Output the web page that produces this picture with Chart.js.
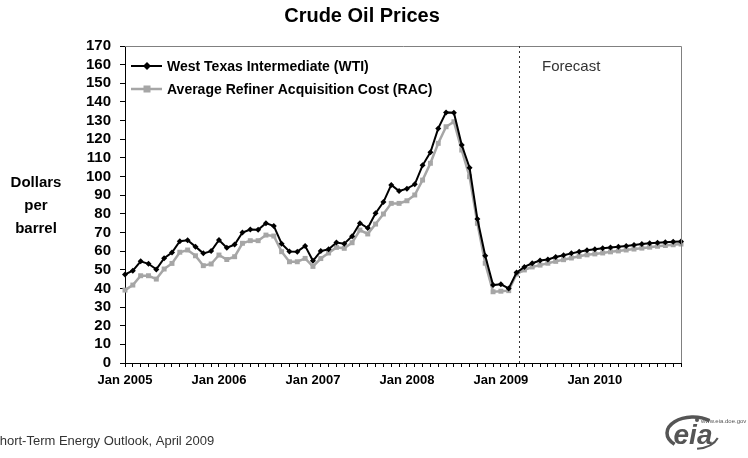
<!DOCTYPE html>
<html>
<head>
<meta charset="utf-8">
<script src="https://cdn.jsdelivr.net/npm/chart.js@4/dist/chart.umd.min.js"></script>
<style>
  html, body { margin: 0; padding: 0; background: #fff; }
  #wrap { width: 748px; height: 458px; position: relative; }
</style>
</head>
<body>
<div id="wrap"><canvas id="oilChart"></canvas></div>
<script>
// months Jan 2005 .. Dec 2010
const years = [2005, 2006, 2007, 2008, 2009, 2010];
const monthNames = ['Jan','Feb','Mar','Apr','May','Jun','Jul','Aug','Sep','Oct','Nov','Dec'];
const months = [];
years.forEach(y => monthNames.forEach(m => months.push(m + ' ' + y)));

// West Texas Intermediate, $/barrel
const wti = [
  47.5, 49.5, 54.5, 53.2, 50.2, 56.2, 59.2, 65.3, 65.8, 62.4, 58.8, 60.0,
  66.0, 61.8, 63.5, 70.0, 71.6, 71.5, 75.0, 73.5, 64.0, 59.8, 59.7, 62.8,
  54.8, 60.0, 61.0, 64.6, 64.0, 68.0, 75.0, 72.4, 80.3, 86.3, 95.5, 92.2,
  93.5, 95.8, 106.0, 113.0, 125.8, 134.4, 134.2, 116.9, 104.7, 77.2, 57.5, 41.8,
  42.2, 40.0, 48.5, 51.5, 53.5, 55.0, 55.5, 56.8, 57.8, 58.8, 59.7, 60.5,
  61.0, 61.5, 62.0, 62.3, 62.8, 63.3, 63.8, 64.2, 64.5, 64.8, 65.0, 65.2
];

// Average Refiner Acquisition Cost, $/barrel
const rac = [
  39.1, 41.8, 46.8, 46.8, 45.0, 50.4, 53.4, 59.4, 60.6, 57.5, 52.2, 53.1,
  57.9, 55.5, 57.0, 64.2, 65.6, 65.6, 68.6, 68.1, 59.7, 54.3, 54.3, 56.1,
  51.8, 56.0, 59.0, 62.0, 61.5, 64.5, 71.3, 69.2, 74.5, 79.9, 85.6, 85.6,
  87.0, 90.1, 98.1, 107.1, 117.8, 126.7, 129.4, 114.2, 99.9, 74.9, 53.5, 38.2,
  38.5, 38.8, 47.7, 49.9, 51.5, 52.5, 53.5, 54.5, 55.4, 56.3, 57.2, 58.0,
  58.5, 59.0, 59.6, 60.1, 60.6, 61.1, 61.6, 62.1, 62.6, 63.0, 63.4, 63.8
];

const forecastStart = 'Mar 2009';
const seriesNames = ['West Texas Intermediate (WTI)', 'Average Refiner Acquisition Cost (RAC)'];

const FONT = "'Liberation Sans', Arial, sans-serif";
const GREY = '#a6a6a6';

// titles, legend, forecast divider, footer — drawn straight onto the canvas
const decorations = {
  id: 'decorations',
  afterDraw(chart) {
    const ctx = chart.ctx;
    const a = chart.chartArea;
    const xs = chart.scales.x;
    ctx.save();

    // plot frame
    ctx.strokeStyle = '#808080';
    ctx.lineWidth = 1;
    ctx.beginPath();
    ctx.moveTo(a.left, a.top + 0.5);
    ctx.lineTo(a.right + 0.5, a.top + 0.5);
    ctx.lineTo(a.right + 0.5, a.bottom);
    ctx.stroke();

    // forecast divider
    const fx = Math.round(xs.getPixelForValue(months.indexOf(forecastStart))) + 2.5;
    ctx.strokeStyle = '#333';
    ctx.setLineDash([2, 3]);
    ctx.beginPath();
    ctx.moveTo(fx, a.top);
    ctx.lineTo(fx, a.bottom);
    ctx.stroke();
    ctx.setLineDash([]);

    ctx.fillStyle = '#333';
    ctx.font = '15px ' + FONT;
    ctx.textAlign = 'left';
    ctx.textBaseline = 'middle';
    ctx.fillText('Forecast', 542, 67);

    // title
    ctx.fillStyle = '#000';
    ctx.font = 'bold 20px ' + FONT;
    ctx.textAlign = 'center';
    ctx.fillText('Crude Oil Prices', 362, 16);

    // y axis title
    ctx.font = 'bold 15px ' + FONT;
    ctx.fillText('Dollars', 36, 183);
    ctx.fillText('per', 36, 206);
    ctx.fillText('barrel', 36, 229);

    // legend
    ctx.textAlign = 'left';
    ctx.font = 'bold 14px ' + FONT;
    ctx.lineWidth = 2;
    ctx.strokeStyle = '#000';
    ctx.beginPath(); ctx.moveTo(131, 66); ctx.lineTo(162, 66); ctx.stroke();
    ctx.fillStyle = '#000';
    ctx.beginPath();
    ctx.moveTo(147, 62); ctx.lineTo(151, 66); ctx.lineTo(147, 70); ctx.lineTo(143, 66);
    ctx.closePath(); ctx.fill();
    ctx.fillText(seriesNames[0], 167, 67);

    ctx.strokeStyle = GREY;
    ctx.lineWidth = 2.5;
    ctx.beginPath(); ctx.moveTo(131, 89); ctx.lineTo(162, 89); ctx.stroke();
    ctx.fillStyle = GREY;
    ctx.fillRect(143.5, 85.5, 7, 7);
    ctx.fillStyle = '#000';
    ctx.fillText(seriesNames[1], 167, 90);

    // footer
    ctx.fillStyle = '#333';
    ctx.font = '13px ' + FONT;
    ctx.fillText('Short-Term Energy Outlook, April 2009', -9, 441);

    // eia mark
    ctx.strokeStyle = '#555';
    ctx.lineWidth = 3.5;
    ctx.beginPath();
    ctx.ellipse(693, 433, 26, 16, 0, Math.PI * 0.75, Math.PI * 1.72);
    ctx.stroke();
    ctx.lineWidth = 2;
    ctx.beginPath();
    ctx.ellipse(693, 433, 26, 16, 0, Math.PI * 0.1, Math.PI * 0.45);
    ctx.stroke();
    ctx.fillStyle = '#555';
    ctx.beginPath(); ctx.arc(697, 420, 2, 0, Math.PI * 2); ctx.fill();
    ctx.font = 'bold italic 28px ' + FONT;
    ctx.textAlign = 'center';
    ctx.fillText('eia', 693, 436);
    ctx.font = '6px ' + FONT;
    ctx.textAlign = 'left';
    ctx.fillText('www.eia.doe.gov', 701, 421);

    ctx.restore();
  }
};

new Chart(document.getElementById('oilChart'), {
  type: 'line',
  data: {
    labels: months,
    datasets: [
      {
        label: seriesNames[0],
        data: wti,
        borderColor: '#000',
        backgroundColor: '#000',
        borderWidth: 2,
        pointStyle: 'rectRot',
        pointRadius: 3,
        pointBorderWidth: 0,
        tension: 0
      },
      {
        label: seriesNames[1],
        data: rac,
        borderColor: GREY,
        backgroundColor: GREY,
        borderWidth: 2.5,
        pointStyle: 'rect',
        pointRadius: 3.5,
        pointBorderWidth: 0,
        tension: 0
      }
    ]
  },
  options: {
    responsive: true,
    maintainAspectRatio: false,
    animation: false,
    layout: { padding: { left: 65, right: 67, top: 46, bottom: 0 } },
    plugins: {
      legend: { display: false },
      title: { display: false },
      tooltip: { enabled: false }
    },
    scales: {
      x: {
        type: 'category',
        offset: false,
        afterFit: s => { s.height = 95; },
        border: { color: '#000', width: 1 },
        grid: { drawOnChartArea: false, drawTicks: true, tickLength: 4, color: '#000' },
        ticks: {
          autoSkip: false,
          maxRotation: 0,
          padding: 6,
          color: '#000',
          font: { family: FONT, size: 13, weight: 'bold' },
          callback: (v, i) => (i % 12 === 0 ? months[i] : '')
        }
      },
      y: {
        min: 0,
        max: 170,
        afterFit: s => { s.width = 60; },
        border: { color: '#000', width: 1 },
        grid: { drawOnChartArea: false, tickLength: 5, color: '#000' },
        ticks: {
          stepSize: 10,
          autoSkip: false,
          padding: 9,
          color: '#000',
          font: { family: FONT, size: 15, weight: 'bold' }
        }
      }
    }
  },
  plugins: [decorations]
});
</script>
</body>
</html>
